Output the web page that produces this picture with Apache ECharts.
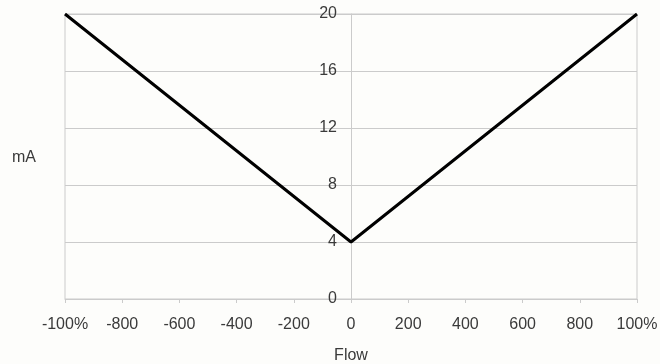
<!DOCTYPE html>
<html><head><meta charset="utf-8">
<script src="https://cdn.jsdelivr.net/npm/echarts@6/dist/echarts.min.js"></script>
<style>html,body{margin:0;padding:0;background:#fdfdfb}#c{width:660px;height:364px}</style>
</head><body><div id="c"></div>
<script>
const flow = [-1000, 0, 1000];
const mA = [20, 4, 20];
const xTickLabels = {'-1000': '-100%', '1000': '100%'};
const xName = 'Flow';
const yName = 'mA';

const chart = echarts.init(document.getElementById('c'));
const font = 'Liberation Sans, Arial, Helvetica, sans-serif';
const gridLeft = 65, gridRight = 23;
const plotW = 660 - gridLeft - gridRight;
chart.setOption({
  backgroundColor: '#fdfdfb',
  animation: false,
  grid: {left: gridLeft, right: gridRight, top: 14, bottom: 65, containLabel: false, outerBoundsMode: 'none',
    show: true, borderColor: '#cbcbcb', borderWidth: 1, backgroundColor: 'transparent'},
  xAxis: {
    type: 'value', min: -1000, max: 1000, interval: 200,
    axisLine: {show: true, lineStyle: {color: '#cbcbcb'}},
    axisTick: {show: true, length: 4, lineStyle: {color: '#cbcbcb'}},
    splitLine: {show: false},
    axisLabel: {color: '#3a3a3a', fontSize: 16, fontFamily: font, margin: 18,
      formatter: v => xTickLabels[String(v)] !== undefined ? xTickLabels[String(v)] : String(v)},
    name: xName, nameLocation: 'middle', nameGap: 49,
    nameTextStyle: {color: '#3a3a3a', fontSize: 16, fontFamily: font}
  },
  yAxis: {
    type: 'value', min: 0, max: 20, interval: 4,
    offset: -plotW / 2,
    axisLine: {show: true, onZero: false, lineStyle: {color: '#cbcbcb'}},
    axisTick: {show: false},
    splitLine: {show: true, lineStyle: {color: '#cbcbcb'}},
    axisLabel: {color: '#3a3a3a', fontSize: 16, fontFamily: font, margin: 14, padding: [2, 0, 0, 0]}
  },
  graphic: [{type: 'text', left: 12, top: 150, style: {text: yName, fill: '#3a3a3a', fontSize: 16, fontFamily: font}}],
  series: [{
    type: 'line', data: flow.map((x, i) => [x, mA[i]]),
    showSymbol: false, lineStyle: {color: '#000', width: 3}
  }]
});
</script></body></html>
